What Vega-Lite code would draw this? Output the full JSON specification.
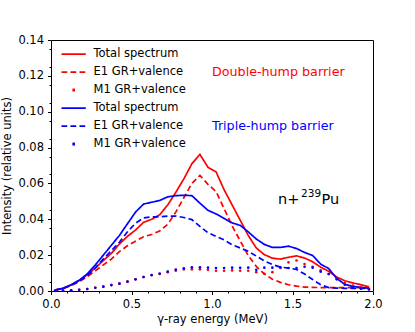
{
  "$schema": "https://vega.github.io/schema/vega-lite/v6.json",
  "width": 322,
  "height": 251,
  "autosize": {"type": "none"},
  "padding": {"left": 51, "top": 40, "right": 42, "bottom": 41},
  "background": "white",
  "config": {
    "font": "DejaVu Sans",
    "view": {"stroke": "black", "strokeWidth": 1},
    "axis": {"grid": false, "domain": false, "labelFlush": false, "labelOverlap": false, "tickColor": "black", "labelColor": "black", "titleColor": "black", "labelFont": "DejaVu Sans", "titleFont": "DejaVu Sans", "labelFontSize": 11.5, "titleFontSize": 11.5, "titleFontWeight": "normal", "tickSize": 3.5, "tickWidth": 1, "labelPadding": 4}
  },
  "data": {"values": [
    {"E":0.025,"DT":0.0005,"DE":0.0005,"DM":0.0001,"TT":0.0005,"TE":0.0005,"TM":0.0001},
    {"E":0.075,"DT":0.0015,"DE":0.0014,"DM":0.0002,"TT":0.0015,"TE":0.0014,"TM":0.0002},
    {"E":0.125,"DT":0.0033,"DE":0.0030,"DM":0.0004,"TT":0.0035,"TE":0.0032,"TM":0.0004},
    {"E":0.175,"DT":0.0058,"DE":0.0052,"DM":0.0007,"TT":0.0060,"TE":0.0054,"TM":0.0007},
    {"E":0.225,"DT":0.0090,"DE":0.0080,"DM":0.0011,"TT":0.0095,"TE":0.0085,"TM":0.0011},
    {"E":0.275,"DT":0.0128,"DE":0.0112,"DM":0.0018,"TT":0.0145,"TE":0.0128,"TM":0.0018},
    {"E":0.325,"DT":0.0170,"DE":0.0146,"DM":0.0024,"TT":0.0200,"TE":0.0178,"TM":0.0024},
    {"E":0.375,"DT":0.0210,"DE":0.0178,"DM":0.0033,"TT":0.0255,"TE":0.0225,"TM":0.0033},
    {"E":0.425,"DT":0.0262,"DE":0.0220,"DM":0.0041,"TT":0.0310,"TE":0.0272,"TM":0.0041},
    {"E":0.475,"DT":0.0305,"DE":0.0252,"DM":0.0052,"TT":0.0375,"TE":0.0330,"TM":0.0052},
    {"E":0.525,"DT":0.0340,"DE":0.0278,"DM":0.0065,"TT":0.0440,"TE":0.0378,"TM":0.0065},
    {"E":0.575,"DT":0.0383,"DE":0.0303,"DM":0.0078,"TT":0.0485,"TE":0.0408,"TM":0.0078},
    {"E":0.625,"DT":0.0400,"DE":0.0315,"DM":0.0088,"TT":0.0495,"TE":0.0413,"TM":0.0089},
    {"E":0.675,"DT":0.0425,"DE":0.0335,"DM":0.0095,"TT":0.0505,"TE":0.0414,"TM":0.0097},
    {"E":0.725,"DT":0.0480,"DE":0.0372,"DM":0.0105,"TT":0.0525,"TE":0.0418,"TM":0.0108},
    {"E":0.775,"DT":0.0550,"DE":0.0440,"DM":0.0113,"TT":0.0532,"TE":0.0418,"TM":0.0119},
    {"E":0.825,"DT":0.0625,"DE":0.0520,"DM":0.0120,"TT":0.0534,"TE":0.0410,"TM":0.0127},
    {"E":0.875,"DT":0.0710,"DE":0.0600,"DM":0.0121,"TT":0.0532,"TE":0.0398,"TM":0.0132},
    {"E":0.925,"DT":0.0762,"DE":0.0645,"DM":0.0121,"TT":0.0490,"TE":0.0360,"TM":0.0132},
    {"E":0.975,"DT":0.0690,"DE":0.0595,"DM":0.0118,"TT":0.0450,"TE":0.0325,"TM":0.0130},
    {"E":1.025,"DT":0.0665,"DE":0.0555,"DM":0.0113,"TT":0.0430,"TE":0.0305,"TM":0.0128},
    {"E":1.075,"DT":0.0565,"DE":0.0460,"DM":0.0113,"TT":0.0405,"TE":0.0285,"TM":0.0128},
    {"E":1.125,"DT":0.0480,"DE":0.0363,"DM":0.0115,"TT":0.0380,"TE":0.0258,"TM":0.0130},
    {"E":1.175,"DT":0.0395,"DE":0.0280,"DM":0.0113,"TT":0.0366,"TE":0.0240,"TM":0.0129},
    {"E":1.225,"DT":0.0310,"DE":0.0198,"DM":0.0113,"TT":0.0330,"TE":0.0222,"TM":0.0130},
    {"E":1.275,"DT":0.0240,"DE":0.0137,"DM":0.0105,"TT":0.0290,"TE":0.0195,"TM":0.0118},
    {"E":1.325,"DT":0.0203,"DE":0.0095,"DM":0.0096,"TT":0.0260,"TE":0.0168,"TM":0.0130},
    {"E":1.375,"DT":0.0183,"DE":0.0066,"DM":0.0105,"TT":0.0243,"TE":0.0148,"TM":0.0130},
    {"E":1.425,"DT":0.0178,"DE":0.0048,"DM":0.0128,"TT":0.0243,"TE":0.0133,"TM":0.0132},
    {"E":1.475,"DT":0.0188,"DE":0.0035,"DM":0.0160,"TT":0.0250,"TE":0.0128,"TM":0.0128},
    {"E":1.525,"DT":0.0196,"DE":0.0027,"DM":0.0170,"TT":0.0237,"TE":0.0120,"TM":0.0128},
    {"E":1.575,"DT":0.0184,"DE":0.0022,"DM":0.0150,"TT":0.0215,"TE":0.0095,"TM":0.0135},
    {"E":1.625,"DT":0.0163,"DE":0.0020,"DM":0.0135,"TT":0.0198,"TE":0.0064,"TM":0.0130},
    {"E":1.675,"DT":0.0133,"DE":0.0019,"DM":0.0115,"TT":0.0150,"TE":0.0035,"TM":0.0108},
    {"E":1.725,"DT":0.0110,"DE":0.0019,"DM":0.0095,"TT":0.0125,"TE":0.0019,"TM":0.0095},
    {"E":1.775,"DT":0.0078,"DE":0.0019,"DM":0.0070,"TT":0.0070,"TE":0.0016,"TM":0.0065},
    {"E":1.825,"DT":0.0057,"DE":0.0019,"DM":0.0045,"TT":0.0037,"TE":0.0015,"TM":0.0035},
    {"E":1.875,"DT":0.0045,"DE":0.0019,"DM":0.0030,"TT":0.0026,"TE":0.0015,"TM":0.0020},
    {"E":1.925,"DT":0.0035,"DE":0.0019,"DM":0.0020,"TT":0.0020,"TE":0.0015,"TM":0.0013},
    {"E":1.975,"DT":0.0023,"DE":0.0019,"DM":0.0013,"TT":0.0015,"TE":0.0014,"TM":0.0008}
  ]},
  "transform": [
    {"fold": ["DT", "DE", "DM", "TT", "TE", "TM"], "as": ["series", "I"]}
  ],
  "layer": [
    {
      "transform": [{"filter": "datum.series != 'DM' && datum.series != 'TM'"}],
      "mark": {"type": "line", "strokeWidth": 1.7, "interpolate": "linear"},
      "encoding": {
        "x": {"field": "E", "type": "quantitative", "scale": {"domain": [0, 2], "nice": false, "zero": false, "padding": 0},
              "axis": {"values": [0, 0.5, 1, 1.5, 2], "format": ".1f", "title": "γ-ray energy (MeV)", "titlePadding": 3, "orient": "bottom"}},
        "y": {"field": "I", "type": "quantitative", "scale": {"domain": [0, 0.14], "nice": false, "padding": 0},
              "axis": {"values": [0, 0.02, 0.04, 0.06, 0.08, 0.1, 0.12, 0.14], "format": ".2f", "title": "Intensity (relative units)", "titlePadding": 5, "orient": "left"}},
        "color": {"field": "series", "type": "nominal",
          "scale": {"domain": ["DT", "DE", "DM", "TT", "TE", "TM"], "range": ["#ff0000", "#ff0000", "#ff0000", "#0000ff", "#0000ff", "#0000ff"]},
          "legend": {
            "orient": "none", "legendX": 16.9, "legendY": 8.3, "padding": 0, "title": null,
            "symbolType": "stroke", "symbolSize": 590, "symbolStrokeWidth": 1.8, "symbolOffset": 0,
            "labelFont": "DejaVu Sans", "labelFontSize": 11.5, "labelColor": "black", "labelOffset": 14.1,
            "rowPadding": 5,
            "labelExpr": "substring(datum.value,1,2) == 'T' ? 'Total spectrum' : substring(datum.value,1,2) == 'E' ? 'E1 GR+valence' : 'M1 GR+valence'",
            "encode": {"symbols": {"update": {
              "strokeDash": {"signal": "substring(datum.value,1,2) == 'M' ? [2.6, 100] : substring(datum.value,1,2) == 'E' ? [5.7, 3.3] : [1, 0]"},
              "strokeDashOffset": {"signal": "substring(datum.value,1,2) == 'M' ? -10.9 : 0"},
              "strokeWidth": {"signal": "substring(datum.value,1,2) == 'M' ? 3 : 1.8"}
            }}}
          }},
        "strokeDash": {"field": "series", "type": "nominal",
          "scale": {"domain": ["DT", "DE", "TT", "TE"], "range": [[1, 0], [5.7, 3.3], [1, 0], [5.7, 3.3]]},
          "legend": null}
      }
    },
    {
      "transform": [{"filter": "datum.series == 'DM' || datum.series == 'TM'"}],
      "mark": {"type": "circle", "size": 7, "opacity": 1},
      "encoding": {
        "x": {"field": "E", "type": "quantitative", "scale": {"domain": [0, 2], "nice": false, "zero": false, "padding": 0},
              "axis": {"orient": "bottom", "values": [0.1, 0.2, 0.3, 0.4, 0.6, 0.7, 0.8, 0.9, 1.1, 1.2, 1.3, 1.4, 1.6, 1.7, 1.8, 1.9], "labels": false, "tickSize": 2, "title": null}},
        "y": {"field": "I", "type": "quantitative", "scale": {"domain": [0, 0.14], "nice": false, "padding": 0},
              "axis": {"orient": "left", "values": [0.005, 0.015, 0.025, 0.035, 0.045, 0.055, 0.065, 0.075, 0.085, 0.095, 0.105, 0.115, 0.125, 0.135], "labels": false, "tickSize": 2, "title": null}},
        "color": {"field": "series", "type": "nominal"}
      }
    },
    {
      "data": {"values": [{}]},
      "mark": {"type": "text", "align": "left", "baseline": "alphabetic", "fontSize": 12.7, "color": "#ff0000", "font": "DejaVu Sans", "text": "Double-hump barrier"},
      "encoding": {"x": {"datum": 1.0, "type": "quantitative", "axis": null}, "y": {"datum": 0.12, "type": "quantitative", "axis": null}}
    },
    {
      "data": {"values": [{}]},
      "mark": {"type": "text", "align": "left", "baseline": "alphabetic", "fontSize": 12.7, "color": "#0000ff", "font": "DejaVu Sans", "text": "Triple-hump barrier"},
      "encoding": {"x": {"datum": 1.0, "type": "quantitative", "axis": null}, "y": {"datum": 0.09, "type": "quantitative", "axis": null}}
    },
    {
      "data": {"values": [{}]},
      "mark": {"type": "text", "align": "left", "baseline": "alphabetic", "fontSize": 14.5, "color": "black", "font": "DejaVu Sans", "text": "n+"},
      "encoding": {"x": {"datum": 1.41, "type": "quantitative", "axis": null}, "y": {"datum": 0.0485, "type": "quantitative", "axis": null}}
    },
    {
      "data": {"values": [{}]},
      "mark": {"type": "text", "align": "left", "baseline": "alphabetic", "fontSize": 10.5, "color": "black", "font": "DejaVu Sans", "text": "239"},
      "encoding": {"x": {"datum": 1.553, "type": "quantitative", "axis": null}, "y": {"datum": 0.0527, "type": "quantitative", "axis": null}}
    },
    {
      "data": {"values": [{}]},
      "mark": {"type": "text", "align": "left", "baseline": "alphabetic", "fontSize": 14.5, "color": "black", "font": "DejaVu Sans", "text": "Pu"},
      "encoding": {"x": {"datum": 1.68, "type": "quantitative", "axis": null}, "y": {"datum": 0.0485, "type": "quantitative", "axis": null}}
    }
  ],
  "resolve": {"axis": {"x": "independent", "y": "independent"}}
}
